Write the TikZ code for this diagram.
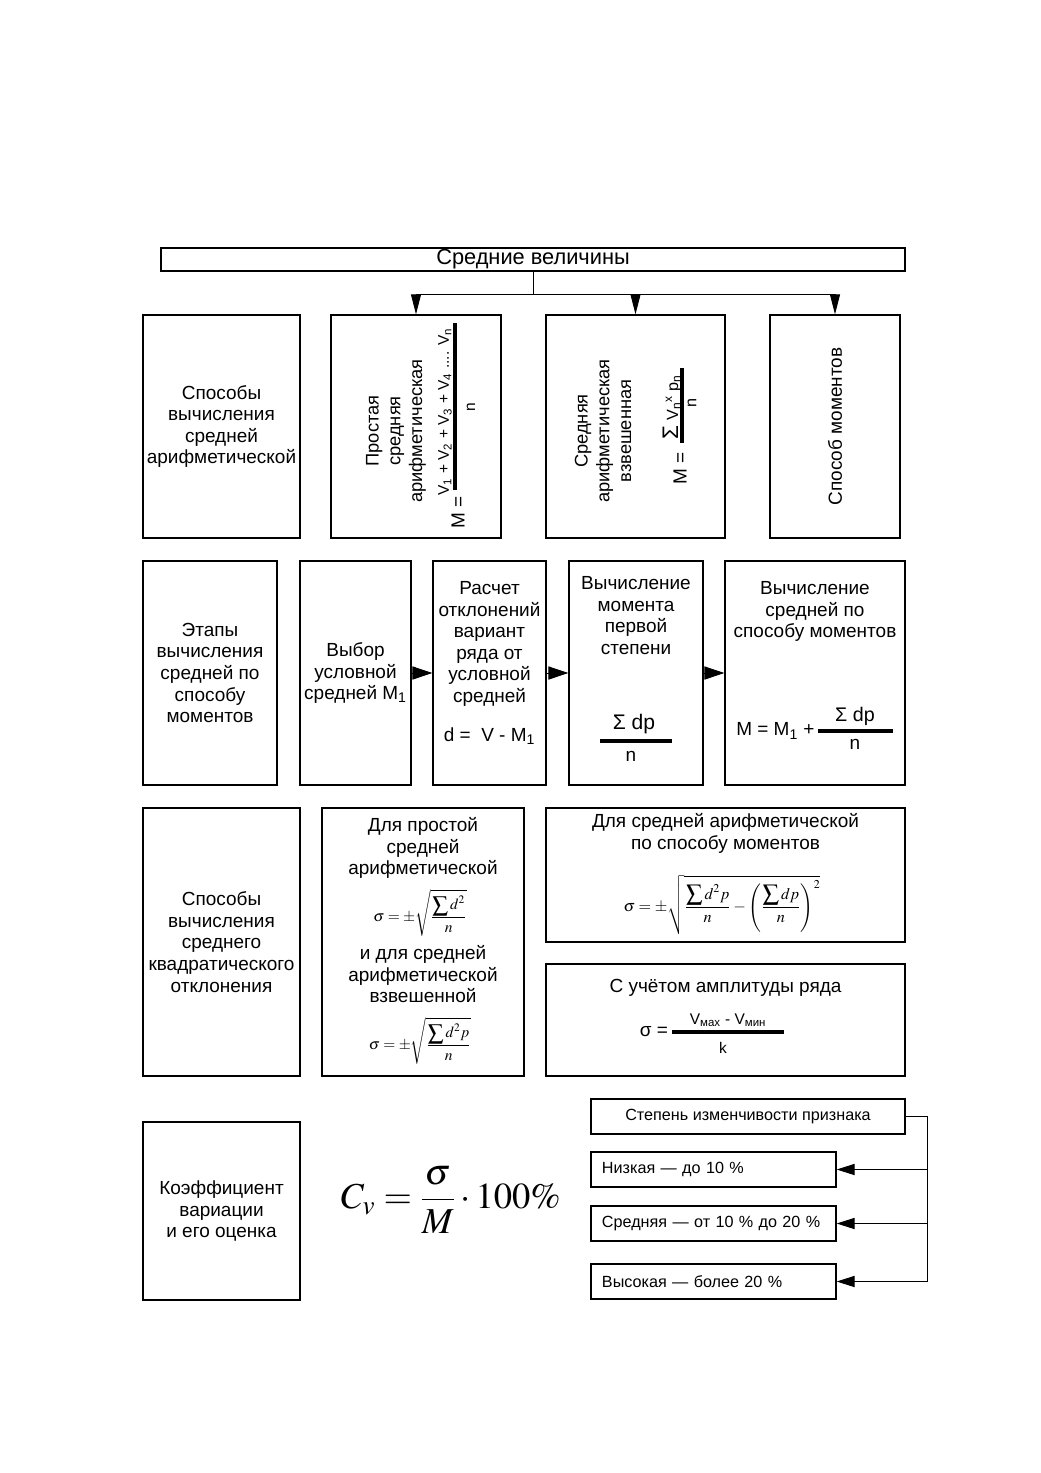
\documentclass[tikz,border=0pt]{standalone}
\usepackage{amsmath}
\usepackage{mathptmx}
\usepackage[no-math]{fontspec}
\setmainfont{Liberation Sans}
\usetikzlibrary{arrows.meta, positioning}

\tikzset{
  blk/.style={draw, line width=0.9pt, inner sep=0pt, align=center, font=\fontsize{13.5}{15.4}\selectfont},
  txt/.style={inner sep=0pt, align=center, font=\fontsize{13.5}{15.4}\selectfont},
  lvl/.style={draw, line width=0.9pt, minimum height=0.875cm, inner xsep=0.275cm, inner ysep=0pt, text width=5.575cm, align=left, font=\fontsize{11.5}{13}\selectfont},
  lnk/.style={line width=0.7pt},
  fbar/.style={line width=2.6pt},
}

\begin{document}
\begin{tikzpicture}[x=0.025cm, y=-0.025cm, >={Triangle[length=0.45cm, width=0.28cm]}]
    \useasboundingbox (0,0) rectangle (1040,1473);
    \fill[white] (0,0) rectangle (1040,1473);

    \node[blk, minimum width=18.6cm, minimum height=0.575cm, font=\fontsize{15.5}{17}\selectfont] (title) at (533,259.5) {Средние величины};

    \node[blk, minimum width=3.925cm, minimum height=5.575cm] (ways) at (221.5,426.5) {Способы\\вычисления\\средней\\арифметической};

    \node[blk, minimum width=4.25cm, minimum height=5.575cm] (simple) at (416,426.5) {};
    \node[txt, rotate=90, font=\fontsize{13}{15.5}\selectfont] (simpletxt) at (396,431) {Простая\\средняя\\арифметическая};
    \node[txt, rotate=90, font=\fontsize{11}{13}\selectfont] (simplenum) at (445,412) {V\textsubscript{1} + V\textsubscript{2} + V\textsubscript{3} + V\textsubscript{4} .... V\textsubscript{n}};
    \draw[fbar] (455,323) -- (455,490);
    \node[txt, rotate=90, font=\fontsize{11}{13}\selectfont] (simpleden) at (471,407) {n};
    \node[txt, rotate=90] (simpleM) at (458,512) {M =};

    \node[blk, minimum width=4.475cm, minimum height=5.575cm] (weighted) at (635.5,426.5) {};
    \node[txt, rotate=90, font=\fontsize{13}{15.5}\selectfont] (weightedtxt) at (603,431) {Средняя\\арифметическая\\взвешенная};
    \node[txt, rotate=90, font=\fontsize{11.5}{13}\selectfont] (weightednum) at (672,407) {{\fontsize{16}{16}\selectfont Σ} V\textsubscript{n}\textsuperscript{x} p\textsubscript{n}};
    \draw[fbar] (682,368) -- (682,443);
    \node[txt, rotate=90, font=\fontsize{11.5}{13}\selectfont] (weightedden) at (692,403) {n};
    \node[txt, rotate=90] (weightedM) at (680,468) {M =};

    \node[blk, minimum width=3.25cm, minimum height=5.575cm] (moments) at (835,426.5) {};
    \node[txt, rotate=90] (momentstxt) at (moments.center) {Способ моментов};

    \coordinate (bus) at (533,294);
    \draw[lnk] (title.south) -- (bus);
    \draw[lnk, -{Triangle[length=0.5cm, width=0.25cm]}] (bus) -| (simple.north);
    \draw[lnk, -{Triangle[length=0.5cm, width=0.25cm]}] (bus) -| (weighted.north);
    \draw[lnk, -{Triangle[length=0.5cm, width=0.25cm]}] (bus) -| (moments.north);

    \node[blk, minimum width=3.35cm, minimum height=5.6cm] (stages) at (210,673) {Этапы\\вычисления\\средней по\\способу\\моментов};
    \node[blk, minimum width=2.775cm, minimum height=5.6cm] (choice) at (355.5,673) {Выбор\\условной\\средней M\textsubscript{1}};

    \node[blk, minimum width=2.825cm, minimum height=5.6cm] (dev) at (489.5,673) {};
    \node[txt, anchor=north] (devtxt) at (489.5,581) {Расчет\\отклонений\\вариант\\ряда от\\условной\\средней};
    \node[txt] (devf) at (489.5,736) {d = \ V - M\textsubscript{1}};

    \node[blk, minimum width=3.35cm, minimum height=5.6cm] (first) at (636,673) {};
    \node[txt, anchor=north] (firsttxt) at (636,576) {Вычисление\\момента\\первой\\степени};
    \node[txt, font=\fontsize{15}{17}\selectfont] (firstnum) at (634,724) {Σ dp};
    \draw[fbar] (600,741) -- (672,741);
    \node[txt] (firstden) at (631,756) {n};

    \node[blk, minimum width=4.5cm, minimum height=5.6cm] (avg) at (815,673) {};
    \node[txt, anchor=north] (avgtxt) at (815,581) {Вычисление\\средней по\\способу моментов};
    \node[txt, anchor=west] (avgM) at (736,731) {M = M\textsubscript{1} +};
    \node[txt, font=\fontsize{14}{16}\selectfont] (avgnum) at (855,716) {Σ dp};
    \draw[fbar] (818,731) -- (893,731);
    \node[txt] (avgden) at (855,744) {n};

    \draw[lnk, -{Triangle[length=0.5cm, width=0.33cm]}] (choice.east) -- (dev.west);
    \draw[lnk, -{Triangle[length=0.5cm, width=0.33cm]}] (dev.east) -- (first.west);
    \draw[lnk, -{Triangle[length=0.5cm, width=0.33cm]}] (first.east) -- (avg.west);

    \node[blk, minimum width=3.925cm, minimum height=6.7cm] (sdways) at (221.5,942) {Способы\\вычисления\\среднего\\квадратического\\отклонения};

    \node[blk, minimum width=5.05cm, minimum height=6.7cm] (sdsimple) at (423,942) {};
    \node[txt, anchor=north] (sdsimpletxt) at (423,817) {Для простой\\средней\\арифметической};
    \node[txt, font=\fontsize{11}{13}\selectfont] (sdsimplef) at (420,913) {$\sigma = \pm\sqrt{\dfrac{\displaystyle\sum d^{2}}{n}}$};
    \node[txt, anchor=north] (sdweightedtxt) at (423,945) {и для средней\\арифметической\\взвешенной};
    \node[txt, font=\fontsize{11}{13}\selectfont] (sdweightedf) at (420,1041) {$\sigma = \pm\sqrt{\dfrac{\displaystyle\sum d^{2}p}{n}}$};

    \node[blk, minimum width=8.975cm, minimum height=3.35cm] (sdmom) at (725.5,875) {};
    \node[txt, anchor=north] (sdmomtxt) at (725.5,813) {Для средней арифметической\\по способу моментов};
    \node[txt, font=\fontsize{11.5}{13}\selectfont] (sdmomf) at (722,905) {$\sigma = \pm\sqrt{\dfrac{\displaystyle\sum d^{2}p}{n} - \left(\dfrac{\displaystyle\sum dp}{n}\right)^{2}}$};

    \node[blk, minimum width=8.975cm, minimum height=2.8cm] (sdamp) at (725.5,1020) {};
    \node[txt] (sdamptxt) at (725.5,988) {С учётом амплитуды ряда};
    \node[txt] (sdampsig) at (654,1032) {σ =};
    \node[txt, font=\fontsize{11}{13}\selectfont] (sdampnum) at (728,1020) {V\textsubscript{мах} - V\textsubscript{мин}};
    \draw[fbar] (672,1032) -- (784,1032);
    \node[txt, font=\fontsize{11}{13}\selectfont] (sdampden) at (723,1048) {k};

    \node[blk, minimum width=3.925cm, minimum height=4.45cm] (cvar) at (221.5,1211) {Коэффициент\\вариации\\и его оценка};
    \node[inner sep=0pt, font=\fontsize{26}{30}\selectfont] (cvf) at (451,1200) {$C_{v} = \dfrac{\sigma}{M}\cdot 100\%$};

    \node[draw, line width=0.9pt, minimum width=7.85cm, minimum height=0.875cm, inner sep=0pt, font=\fontsize{11.5}{13}\selectfont] (degree) at (748,1116.5) {Степень изменчивости признака};
    \node[lvl] (low) at (713.5,1169.5) {Низкая — до 10 \%};
    \node[lvl] (mid) at (713.5,1223.5) {Средняя — от 10 \% до 20 \%};
    \node[lvl] (high) at (713.5,1281.5) {Высокая — более 20 \%};

    \coordinate (spine) at (927,1116.5);
    \draw[lnk] (degree.east) -- (spine) -- (spine |- high.east);
    \foreach \k in {low, mid, high}
      \draw[lnk, ->] (spine |- \k.east) -- (\k.east);
\end{tikzpicture}
\end{document}
